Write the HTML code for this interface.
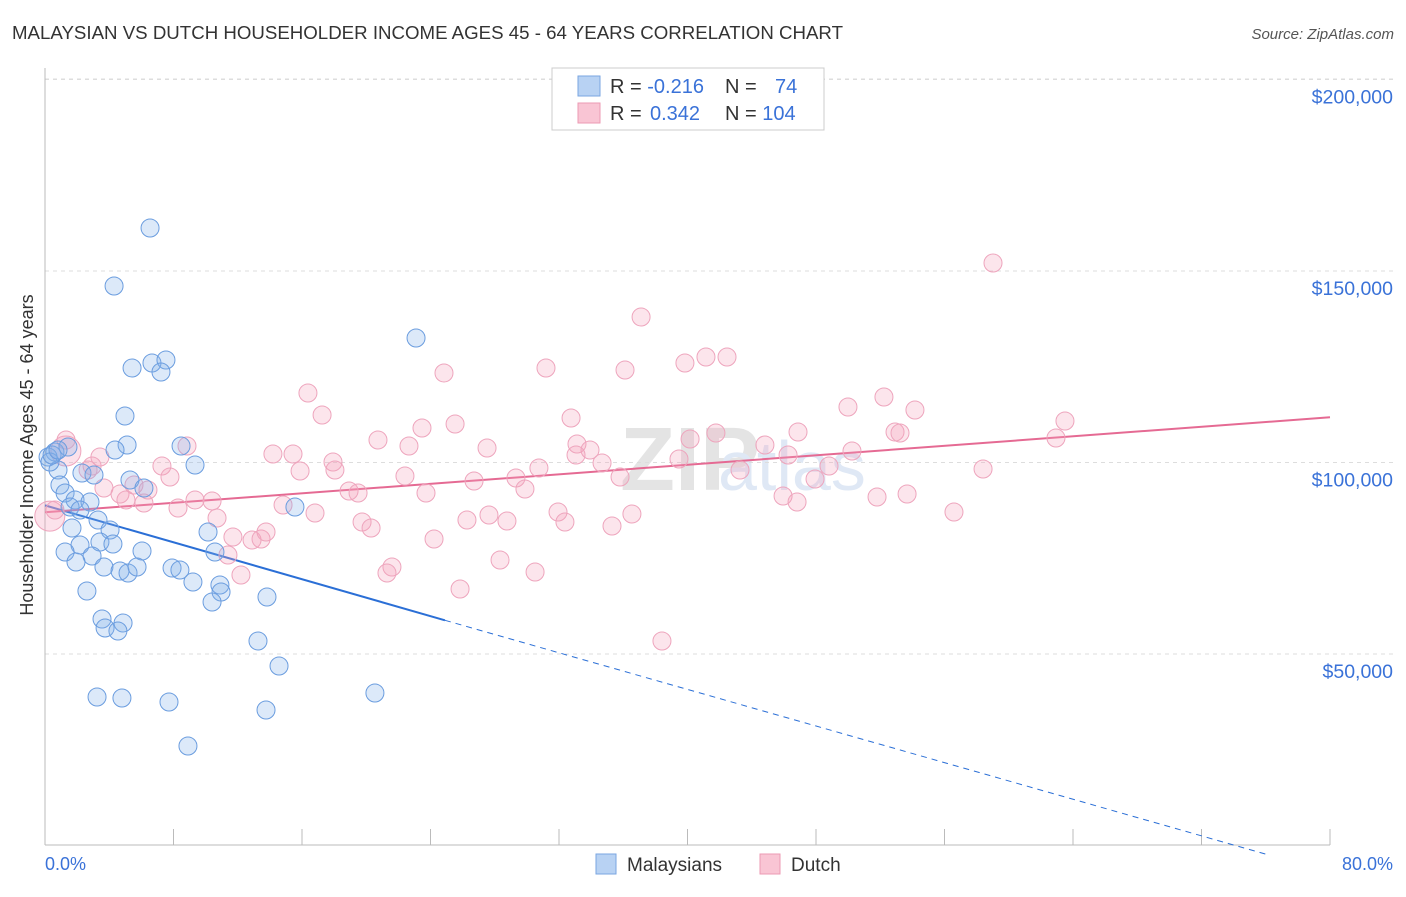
<!DOCTYPE html>
<html><head><meta charset="utf-8"><style>
body{margin:0;background:#fff;font-family:"Liberation Sans",sans-serif}
svg text{font-family:"Liberation Sans",sans-serif}
</style></head><body>
<svg id="chart" width="1406" height="892" xmlns="http://www.w3.org/2000/svg">
<text x="12" y="39" font-size="18" fill="#333" textLength="831" lengthAdjust="spacingAndGlyphs">MALAYSIAN VS DUTCH HOUSEHOLDER INCOME AGES 45 - 64 YEARS CORRELATION CHART</text>
<text x="1394" y="39" font-size="15" fill="#555" font-style="italic" text-anchor="end">Source: ZipAtlas.com</text>
<text x="620" y="490" font-size="90" fill="#e4e4e4" font-weight="bold">ZIP</text>
<text x="718" y="490" font-size="70" fill="#dfe8f5">atlas</text>
<g id="grid"></g><g id="axes"></g><g id="lines"></g><g id="pts"></g>
<text transform="translate(33,455) rotate(-90)" font-size="18" fill="#333" text-anchor="middle">Householder Income Ages 45 - 64 years</text>
<text x="45" y="870" font-size="18" fill="#3a72d8">0.0%</text>
<text x="1393" y="870" font-size="18" fill="#3a72d8" text-anchor="end">80.0%</text>
<g>
<rect x="552" y="68" width="272" height="62" fill="#fff" stroke="#ccc"/>
<rect x="578" y="76" width="22" height="20" fill="#b8d2f3" stroke="#7aa6e0"/>
<rect x="578" y="103" width="22" height="20" fill="#f9c5d4" stroke="#ec9ab3"/>
<text x="610" y="93" font-size="20" fill="#333">R = <tspan fill="#3a72d8">-0.216</tspan></text>
<text x="725" y="93" font-size="20" fill="#333">N = <tspan fill="#3a72d8" x="775">74</tspan></text>
<text x="610" y="120" font-size="20" fill="#333">R = <tspan fill="#3a72d8" x="650">0.342</tspan></text>
<text x="725" y="120" font-size="20" fill="#333">N = <tspan fill="#3a72d8">104</tspan></text>
</g>
<g>
<rect x="596" y="854" width="20" height="20" fill="#b8d2f3" stroke="#7aa6e0"/>
<text x="627" y="871" font-size="19" fill="#333">Malaysians</text>
<rect x="760" y="854" width="20" height="20" fill="#f9c5d4" stroke="#ec9ab3"/>
<text x="791" y="871" font-size="19" fill="#333">Dutch</text>
</g>
</svg>
<script>
const yTicks=[50000,100000,150000,200000];
const yTickLabels=["$50,000","$100,000","$150,000","$200,000"];
const xTicks=[0,8,16,24,32,40,48,56,64,72,80];
const bluePx=[[150,228],[114,286],[416,338],[132,368],[152,363],[166,360],[161,372],[125,416],[127,445],[115,450],[181,446],[195,465],[130,480],[55,452],[48,457],[68,447],[58,470],[82,473],[94,475],[60,485],[65,493],[75,500],[90,502],[144,488],[295,507],[70,507],[80,510],[98,520],[72,528],[110,530],[100,542],[113,544],[208,532],[80,545],[65,552],[92,556],[142,551],[215,552],[76,562],[104,567],[120,571],[128,573],[137,567],[172,568],[180,570],[193,582],[220,585],[221,592],[212,602],[87,591],[267,597],[102,619],[123,623],[105,628],[118,631],[258,641],[279,666],[375,693],[97,697],[122,698],[169,702],[266,710],[188,746],[50,462],[52,455],[58,450]];
const pinkPx=[[993,263],[641,317],[685,363],[706,357],[727,357],[444,373],[546,368],[625,370],[308,393],[322,415],[571,418],[455,424],[848,407],[884,397],[915,410],[1065,421],[378,440],[409,446],[422,428],[487,448],[577,444],[590,450],[690,439],[716,433],[765,445],[798,432],[852,451],[895,432],[900,433],[1056,438],[187,446],[66,440],[100,457],[92,466],[88,470],[273,454],[293,454],[300,471],[333,462],[335,470],[405,476],[474,481],[516,478],[539,468],[576,455],[602,463],[620,477],[679,459],[740,470],[788,455],[829,466],[815,479],[983,469],[162,466],[170,477],[134,485],[104,488],[120,494],[148,490],[126,500],[144,503],[195,500],[212,501],[283,505],[315,513],[349,491],[358,493],[426,493],[525,489],[558,512],[565,522],[632,514],[467,520],[489,515],[507,521],[612,526],[783,496],[797,502],[877,497],[907,494],[954,512],[178,508],[217,518],[233,537],[252,540],[261,539],[266,532],[362,522],[371,528],[434,539],[228,555],[241,575],[392,567],[387,573],[500,560],[535,572],[460,589],[662,641],[55,510]];
const blueX=bluePx.map(p=>+((p[0]-45)/1285*80).toFixed(2));
const blueY=bluePx.map(p=>Math.round(50000+(654-p[1])*50000/191.5));
const pinkX=pinkPx.map(p=>+((p[0]-45)/1285*80).toFixed(2));
const pinkY=pinkPx.map(p=>Math.round(50000+(654-p[1])*50000/191.5));
const bigPinkX=[1.3,0.3];
const bigPinkY=[103000,86000];
const blueTrend=[[0,88800],[24.9,58800],[76.2,-2500]];
const pinkTrend=[[0,87000],[80,111800]];
const X=v=>45+v/80*1285, Y=v=>654-(v-50000)*191.5/50000;
const NS="http://www.w3.org/2000/svg";
function mk(tag,attrs,parent){const e=document.createElementNS(NS,tag);for(const k in attrs)e.setAttribute(k,attrs[k]);document.getElementById(parent).appendChild(e);return e;}
yTicks.forEach((t,i)=>{
 const l=mk('line',{x1:45,x2:1393,y1:Y(t),y2:Y(t),stroke:'#ddd','stroke-dasharray':'4,4'},'grid');
 
 
 const tx=mk('text',{x:1393,y:Y(t)+24,'font-size':19.5,fill:'#3a72d8','text-anchor':'end'},'grid');
 tx.textContent=yTickLabels[i];
 
 
});
mk('line',{x1:45,x2:1393,y1:79,y2:79,stroke:'#ddd','stroke-dasharray':'4,4'},'grid');
const ax=mk('line',{x1:45,x2:1330,y1:845,y2:845,stroke:'#bbb'},'axes');


const ay=mk('line',{x1:45,x2:45,y1:68,y2:845,stroke:'#bbb'},'axes');


xTicks.forEach(t=>{
 const l=mk('line',{x1:X(t),x2:X(t),y1:829,y2:845,stroke:'#bbb'},'axes');
 
 
});
const b1=mk('line',{x1:X(blueTrend[0][0]),y1:Y(blueTrend[0][1]),x2:X(blueTrend[1][0]),y2:Y(blueTrend[1][1]),stroke:'#2b6fd6','stroke-width':2},'lines');


const b2=mk('line',{x1:X(blueTrend[1][0]),y1:Y(blueTrend[1][1]),x2:X(blueTrend[2][0]),y2:Y(blueTrend[2][1]),stroke:'#2b6fd6','stroke-width':1,'stroke-dasharray':'6,5'},'lines');


const p1=mk('line',{x1:X(pinkTrend[0][0]),y1:Y(pinkTrend[0][1]),x2:X(pinkTrend[1][0]),y2:Y(pinkTrend[1][1]),stroke:'#e56a93','stroke-width':2},'lines');


bigPinkX.forEach((x,i)=>{
 const c=mk('circle',{cx:X(x),cy:Y(bigPinkY[i]),r:15,fill:'rgba(244,160,188,0.3)',stroke:'#eea5bd','stroke-width':1},'pts');
 
 
});
pinkX.forEach((x,i)=>{
 const c=mk('circle',{cx:X(x),cy:Y(pinkY[i]),r:9,fill:'rgba(244,160,188,0.28)',stroke:'#eea5bd','stroke-width':1},'pts');
 
 
});
blueX.forEach((x,i)=>{
 const c=mk('circle',{cx:X(x),cy:Y(blueY[i]),r:9,fill:'rgba(130,175,235,0.28)',stroke:'#6b9ddf','stroke-width':1},'pts');
 
 
});
</script>
</body></html>
